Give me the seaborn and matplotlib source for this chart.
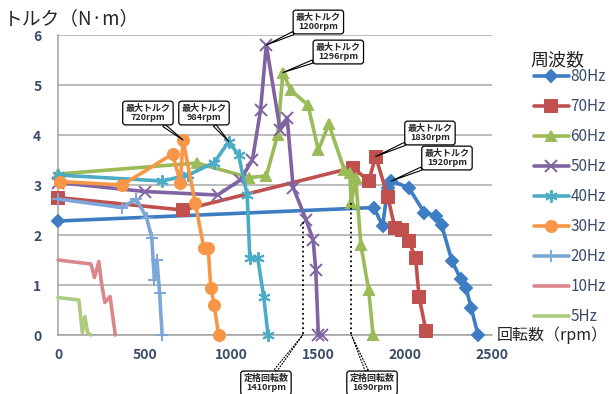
import numpy as np
import pandas as pd
import seaborn as sns
import matplotlib.pyplot as plt

# data (rpm, N*m)
labels = ['80Hz', '70Hz', '60Hz', '50Hz', '40Hz', '30Hz', '20Hz', '10Hz', '5Hz']

rpm_80 = [0, 1820, 1870, 1900, 1920, 2020, 2110, 2180, 2210, 2270, 2320, 2350, 2380, 2420]
tq_80 = [2.28, 2.55, 2.18, 2.95, 3.08, 2.95, 2.45, 2.38, 2.2, 1.48, 1.12, 0.95, 0.55, 0.0]

rpm_70 = [0, 720, 1700, 1790, 1830, 1900, 1940, 1980, 2020, 2060, 2080, 2120]
tq_70 = [2.75, 2.5, 3.35, 3.08, 3.57, 2.77, 2.15, 2.1, 1.88, 1.55, 0.77, 0.08]

rpm_60 = [0, 800, 1100, 1200, 1265, 1296, 1340, 1440, 1500, 1560, 1650, 1680, 1690, 1715, 1745, 1790, 1815]
tq_60 = [3.22, 3.44, 3.15, 3.18, 4.0, 5.25, 4.9, 4.6, 3.7, 4.22, 3.3, 3.25, 2.65, 3.15, 1.8, 0.9, 0.0]

rpm_50 = [0, 500, 920, 1050, 1120, 1167, 1200, 1280, 1320, 1355, 1430, 1470, 1485, 1500, 1520]
tq_50 = [3.05, 2.87, 2.8, 3.1, 3.5, 4.5, 5.8, 4.1, 4.35, 2.95, 2.3, 1.9, 1.3, 0.0, 0.0]

rpm_40 = [0, 600, 750, 900, 984, 1040, 1090, 1105, 1150, 1185, 1210]
tq_40 = [3.2, 3.08, 3.2, 3.45, 3.87, 3.6, 2.8, 1.55, 1.55, 0.77, 0.0]

rpm_30 = [10, 370, 660, 705, 720, 790, 840, 865, 880, 900, 925]
tq_30 = [3.07, 3.0, 3.62, 3.05, 3.9, 2.65, 1.75, 1.75, 0.95, 0.6, 0.0]

rpm_20 = [0, 370, 450, 510, 540, 555, 570, 585, 600]
tq_20 = [2.72, 2.55, 2.72, 2.35, 1.95, 1.1, 1.5, 0.85, 0.0]

rpm_10 = [0, 190, 210, 235, 250, 270, 300, 330]
tq_10 = [1.5, 1.42, 1.15, 1.47, 1.05, 0.65, 0.77, 0.0]

rpm_5 = [0, 120, 140, 155, 170, 190]
tq_5 = [0.75, 0.7, 0.05, 0.37, 0.05, 0.0]

rpms = [rpm_80, rpm_70, rpm_60, rpm_50, rpm_40, rpm_30, rpm_20, rpm_10, rpm_5]
tqs = [tq_80, tq_70, tq_60, tq_50, tq_40, tq_30, tq_20, tq_10, tq_5]

colors = ['#3C7DC4', '#C0504D', '#9BBB59', '#8064A2', '#4BACC6',
          '#F79646', '#7DA7D8', '#D9878B', '#AECB80']
markers = ['D', 's', '^', 'x', (6, 2, 0), 'o', '+', None, None]
msizes = [6, 8, 7, 9, 9, 8, 9, 0, 0]

# callouts: max torque points
peak_rpm = [1200, 1296, 720, 984, 1830, 1920]
peak_tq = [5.8, 5.25, 3.9, 3.87, 3.57, 3.08]
peak_box = [(1500, 6.26), (1615, 5.66), (518, 4.44), (841, 4.44), (2143, 4.04), (2241, 3.54)]

# rated speeds
rated_rpm = [1410, 1690]
rated_tq = [2.26, 2.64]
rated_box = [(1198, -0.96), (1809, -0.96)]

sns.set_style('white')
plt.rcParams['font.family'] = ['Noto Sans CJK JP', 'DejaVu Sans']

fig = plt.figure(figsize=(6.12, 3.94), dpi=100)
ax = fig.add_axes([0.0948, 0.1497, 0.709, 0.7614])

for lab, x, y, c, m, ms in zip(labels, rpms, tqs, colors, markers, msizes):
    df = pd.DataFrame({'rpm': x, 'tq': y})
    sns.lineplot(data=df, x='rpm', y='tq', ax=ax, color=c, lw=2.6, sort=False,
                 estimator=None, marker=m, markersize=ms, mec=c, mew=1.4,
                 label=lab, clip_on=False, zorder=3)

ax.set_xlim(0, 2500)
ax.set_ylim(0, 6)
ax.set_xticks(range(0, 2501, 500))
ax.set_xticks(range(0, 2501, 100), minor=True)
ax.set_yticks(range(0, 7))
ax.set_xlabel('')
ax.set_ylabel('')
ax.yaxis.grid(True, color='#A9A9A9', lw=1.1)
for s in ['top', 'right']:
    ax.spines[s].set_visible(False)
for s in ['left', 'bottom']:
    ax.spines[s].set_color('#A0A0A0')
    ax.spines[s].set_linewidth(1.1)
ax.tick_params(axis='both', which='both', direction='inout', color='#A0A0A0',
               labelcolor='#3B4B6B', labelsize=10)
ax.tick_params(axis='y', length=8, pad=8)
ax.tick_params(axis='x', which='major', length=7, pad=6)
ax.tick_params(axis='x', which='minor', length=7)
for t in ax.get_xticklabels() + ax.get_yticklabels():
    t.set_fontweight('bold')

for r, t, b in zip(peak_rpm, peak_tq, peak_box):
    ax.annotate('最大トルク\n%drpm' % r, xy=(r, t), xytext=b, ha='center', va='center',
                fontsize=6.5, fontweight='bold', linespacing=1.05, annotation_clip=False,
                bbox=dict(boxstyle='round,pad=0.3', fc='white', ec='black', lw=0.9),
                arrowprops=dict(arrowstyle='wedge,tail_width=0.35', fc='white', ec='black',
                                lw=0.8, shrinkA=0, shrinkB=0), zorder=5)

for r, t, b in zip(rated_rpm, rated_tq, rated_box):
    ax.plot([r, r], [t, 0], ls=':', color='black', lw=1.3, zorder=4, clip_on=False)
    ax.annotate('定格回転数\n%drpm' % r, xy=(r, 0), xytext=b, ha='center', va='center',
                fontsize=6.5, fontweight='bold', linespacing=1.05, annotation_clip=False,
                bbox=dict(boxstyle='round,pad=0.3', fc='white', ec='black', lw=0.9),
                arrowprops=dict(arrowstyle='wedge,tail_width=0.35', fc='white', ec='black',
                                lw=0.8, ls=':', shrinkA=0, shrinkB=0), zorder=5)

ax.get_legend().remove()
h, l = ax.get_legend_handles_labels()
leg = fig.legend(h, l, loc='upper left', bbox_to_anchor=(0.862, 0.842), frameon=False,
                 fontsize=11, labelspacing=0.85, handlelength=2.3, handletextpad=0.1,
                 borderaxespad=0)
for t in leg.get_texts():
    t.set_color('#3B4B6B')
fig.text(0.91, 0.848, '周波数', fontsize=13, va='center', ha='center')

fig.text(0.006, 0.978, 'トルク（N·m）', fontsize=13.5, va='top', ha='left')
fig.text(0.812, 0.15, '回転数（rpm）', fontsize=11.5, va='center', ha='left')

fig.savefig('out.png', dpi=100)
